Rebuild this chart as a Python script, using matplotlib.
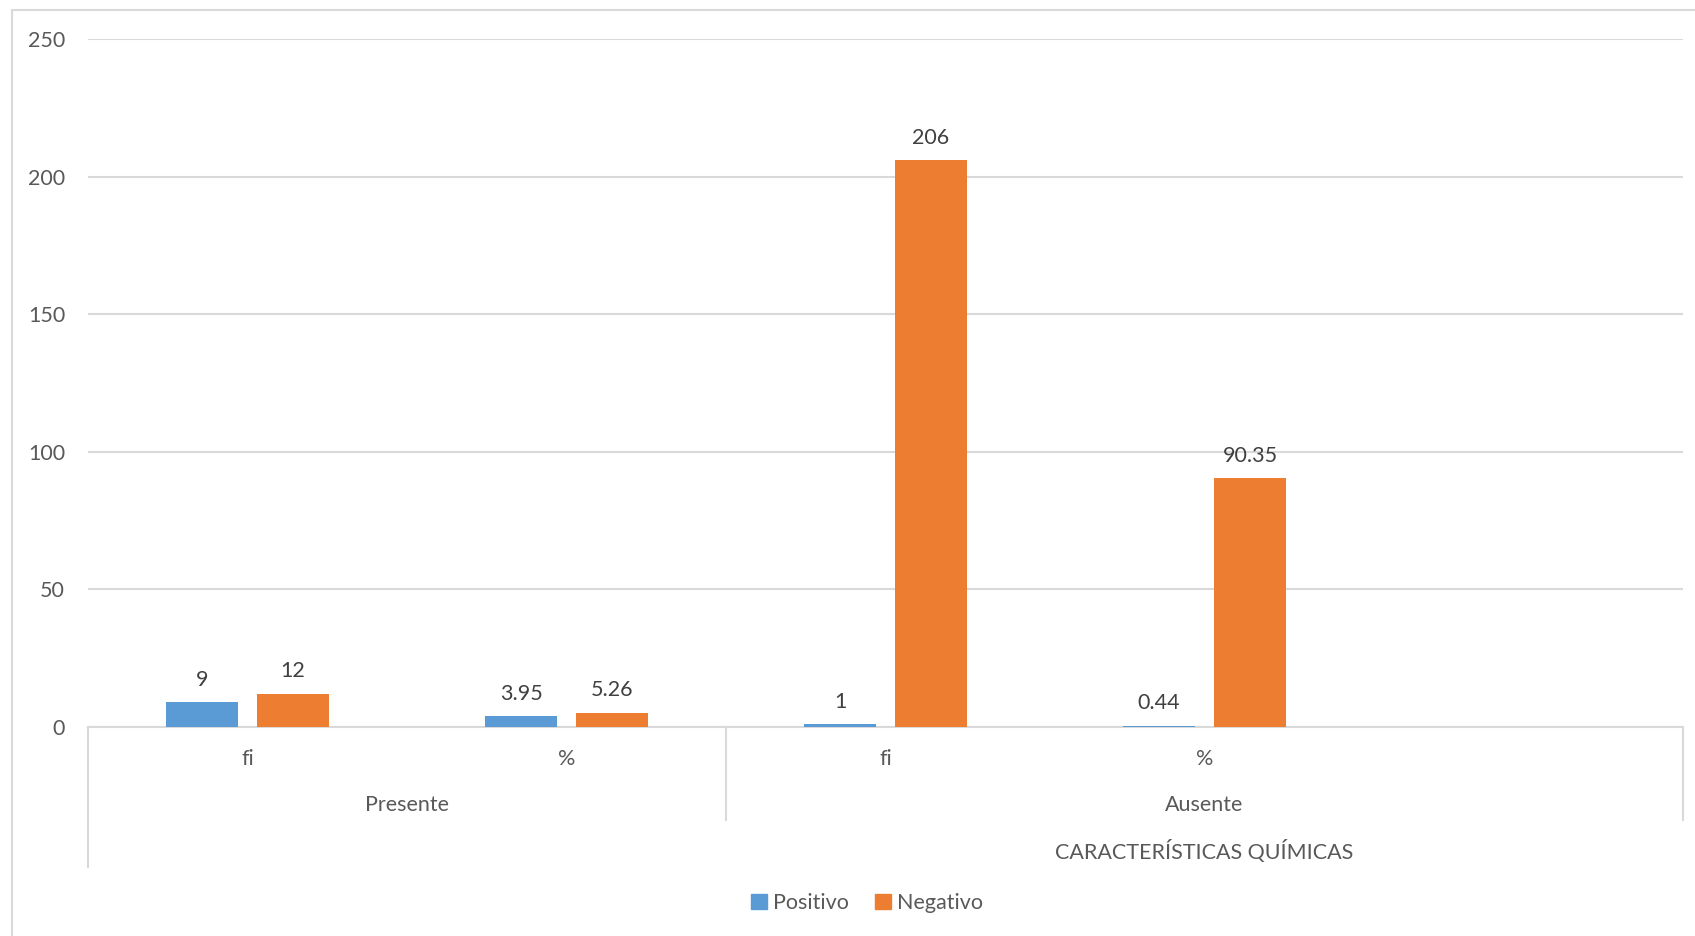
import matplotlib
matplotlib.use("Agg")
import matplotlib.pyplot as plt
import numpy as np
from matplotlib.patches import Rectangle
from matplotlib.lines import Line2D

# ---- data ----
sub_labels = ["fi", "%", "fi", "%", ""]
group_labels = ["Presente", "Ausente"]
group_spans = [(0, 1), (2, 4)]
top_label = "CARACTERÍSTICAS QUÍMICAS"
top_span = (2, 4)
series_names = ["Positivo", "Negativo"]
positivo = [9, 3.95, 1, 0.44, np.nan]
negativo = [12, 5.26, 206, 90.35, np.nan]
pos_text = ["9", "3.95", "1", "0.44", ""]
neg_text = ["12", "5.26", "206", "90.35", ""]
yticks = [0, 50, 100, 150, 200, 250]

BLUE = "#5B9BD5"
ORANGE = "#ED7D31"
GRID = "#D9D9D9"
TXT = "#595959"

plt.rcParams['font.family'] = ['Lato', 'DejaVu Sans']
W, H = 1695, 936
fig = plt.figure(figsize=(W / 100, H / 100), dpi=100)

# chart border
fig.patches.append(Rectangle((12 / W, 0 - 0.01), 1.2, (H - 10) / H + 0.01,
                             transform=fig.transFigure, fill=False,
                             edgecolor=GRID, linewidth=1.5))

left, right, top, bottom = 88, 1683, 39, 727
ax = fig.add_axes([left / W, 1 - bottom / H, (right - left) / W, (bottom - top) / H])

x = np.arange(len(sub_labels))
bw = 0.2257
off = 0.1426
b1 = ax.bar(x - off, positivo, bw, color=BLUE, label=series_names[0], zorder=3)
b2 = ax.bar(x + off, negativo, bw, color=ORANGE, label=series_names[1], zorder=3)
ax.bar_label(b1, labels=pos_text, padding=9, fontsize=15.5, color="#404040")
ax.bar_label(b2, labels=neg_text, padding=9, fontsize=15.5, color="#404040")

ax.set_xlim(-0.5, len(sub_labels) - 0.5)
ax.set_ylim(0, 250)
ax.set_yticks(yticks)
ax.yaxis.grid(True, color=GRID, linewidth=1.5, zorder=0)
ax.set_axisbelow(True)
for s in ["left", "right", "top"]:
    ax.spines[s].set_visible(False)
ax.spines["bottom"].set_color(GRID)
ax.spines["bottom"].set_linewidth(1.5)
ax.tick_params(axis="y", length=0, pad=16.5, labelsize=15.5, labelcolor=TXT)
ax.set_xticks([])

tr = ax.get_xaxis_transform()
ah = bottom - top
def fy(py):
    return (bottom - py) / ah

for i, lab in enumerate(sub_labels):
    if lab:
        ax.text(i, fy(759), lab, transform=tr, ha="center", va="center",
                fontsize=15.5, color=TXT)
for lab, (a, b) in zip(group_labels, group_spans):
    ax.text((a + b) / 2, fy(805), lab, transform=tr, ha="center", va="center",
            fontsize=15.5, color=TXT)
ax.text((top_span[0] + top_span[1]) / 2, fy(852), top_label, transform=tr,
        ha="center", va="center", fontsize=15.5, color=TXT)

# separator lines
lines = [(-0.5, fy(867)), (1.5, fy(820)), (4.5, fy(820))]
for xv, yb in lines:
    ax.add_line(Line2D([xv, xv], [0, yb], transform=tr, color=GRID,
                       linewidth=1.5, clip_on=False))

handles = [Rectangle((0, 0), 1, 1, color=BLUE), Rectangle((0, 0), 1, 1, color=ORANGE)]
fig.legend(handles, series_names, loc="center", bbox_to_anchor=(867 / W, 1 - 903 / H),
           ncol=2, frameon=False, fontsize=15.5, handlelength=0.75, handleheight=0.75,
           handletextpad=0.3, columnspacing=1.2, labelcolor=TXT)

fig.savefig("out.png", dpi=100, facecolor="white")
